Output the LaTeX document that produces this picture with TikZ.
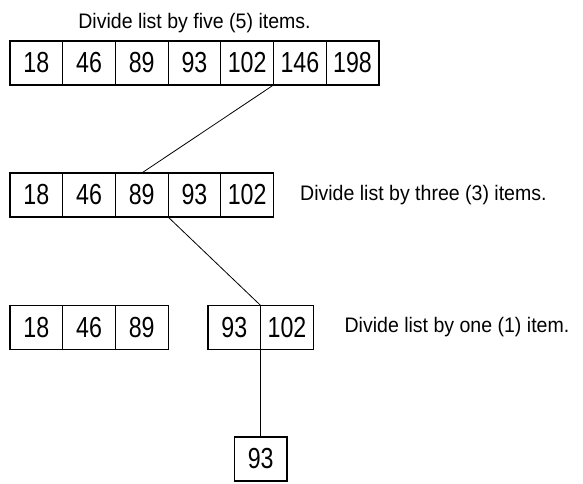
\documentclass[tikz,border=0pt]{standalone}
\usepackage{fontspec}
\setmainfont{Liberation Sans}[FakeStretch=0.93]
\newfontfamily\numfont{Liberation Sans}[FakeStretch=0.8]
\usetikzlibrary{positioning}

\begin{document}
\begin{tikzpicture}[x=1pt,y=-1pt,
    cell/.style={draw,line width=1.2pt,minimum width=52.7pt,minimum height=44pt,
      inner sep=0pt,outer sep=0pt,font=\numfont\fontsize{29}{31}\selectfont},
    note/.style={font=\fontsize{21}{24}\selectfont,inner sep=0pt},
    link/.style={line width=0.8pt}]
  \useasboundingbox (0,0) rectangle (583,483);

  % whole list, then the halves
  \foreach \val [count=\i] in {18,46,89,93,102,146,198}
    \node[cell] (r1c\i) at ({10+52.7*(\i-0.5)},63) {\val};
  \foreach \val [count=\i] in {18,46,89,93,102}
    \node[cell] (r2c\i) at ({10+52.7*(\i-0.5)},195) {\val};
  \foreach \val [count=\i] in {18,46,89}
    \node[cell] (r3c\i) at ({10+52.7*(\i-0.5)},327.5) {\val};
  \node[cell] (r3c4) at (234.35,327.5) {93};
  \node[cell,right=0pt of r3c4] (r3c5) {102};
  \node[cell] (leaf) at (260.7,459) {93};

  \node[note,anchor=base] (five) at (194.5,28) {Divide list by five (5) items.};
  \node[note,right=26.5pt of r2c5] (three) {Divide list by three (3) items.};
  \node[note,right=31pt of r3c5] (one) {Divide list by one (1) item.};

  \draw[link] (r1c5.south east) -- (r2c3.north);
  \draw[link] (r2c3.south east) -- (r3c4.north east);
  \draw[link] (r3c4.south east) -- (leaf.north);
\end{tikzpicture}
\end{document}
